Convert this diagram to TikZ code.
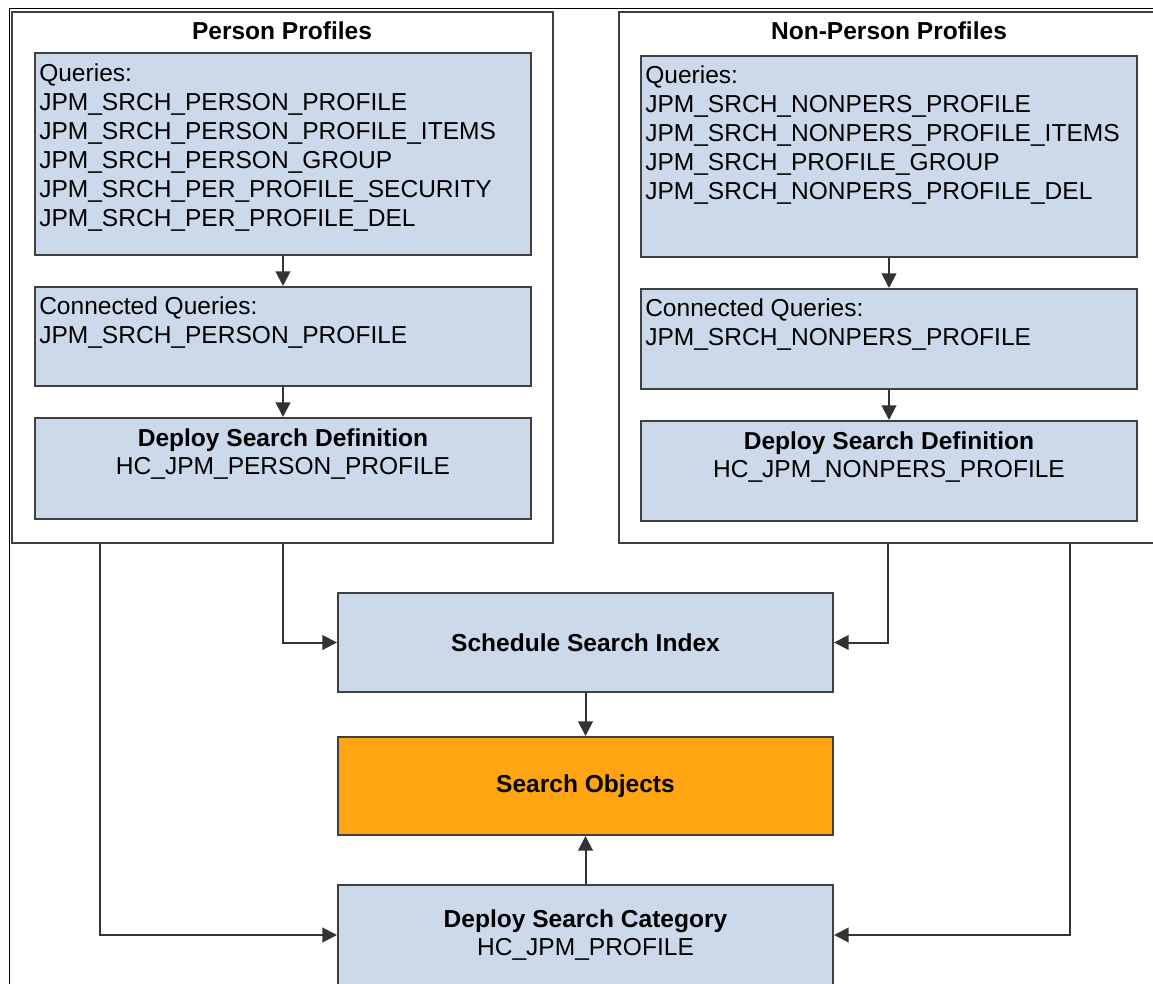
\documentclass[tikz,border=0pt]{standalone}
\usepackage{fontspec}
\setmainfont{Liberation Sans}
\usepackage{tikz}
\usetikzlibrary{arrows.meta}
\definecolor{boxblue}{RGB}{204,217,235}
\definecolor{boxorange}{RGB}{255,165,17}
\definecolor{edgegray}{RGB}{64,64,64}
\definecolor{arrgray}{RGB}{51,51,51}

\begin{document}
\begin{tikzpicture}[x=0.75pt,y=-0.75pt,
  outerbox/.style={draw=edgegray, line width=1.5pt, fill=white, minimum width=405.75pt, minimum height=398.25pt},
  bluebox/.style={draw=edgegray, line width=1.5pt, fill=boxblue, minimum width=372pt},
  midbox/.style={draw=edgegray, line width=1.5pt, fill=boxblue, minimum width=371.25pt, minimum height=74.25pt, align=center, font=\fontsize{18.4}{21}\selectfont},
  listtext/.style={anchor=north west, inner sep=0pt, align=left, font=\fontsize{18.4}{21.75}\selectfont},
  deftext/.style={anchor=north, inner sep=0pt, align=center, font=\fontsize{18.4}{21}\selectfont},
  title/.style={font=\fontsize{18.4}{21}\selectfont\bfseries, inner sep=0pt},
  conn/.style={draw=arrgray, line width=1.5pt, -{Triangle[length=11pt,width=11pt]}}]
\clip (0,0) rectangle (1153,984);
\draw [line width=0.75pt] (9,984) -- (9,9) -- (1153,9);

% person profiles
\node [outerbox] (pp) at (282.5,277.5) {};
\node [title] (ppt) at (282,31) {Person Profiles};
\node [bluebox, minimum height=151.5pt] (pq) at (283,154) {};
\node [listtext] (pqt) at ([shift={(5,11)}]pq.north west) {Queries:\\
  JPM\_SRCH\_PERSON\_PROFILE\\
  JPM\_SRCH\_PERSON\_PROFILE\_ITEMS\\
  JPM\_SRCH\_PERSON\_GROUP\\
  JPM\_SRCH\_PER\_PROFILE\_SECURITY\\
  JPM\_SRCH\_PER\_PROFILE\_DEL};
\node [bluebox, minimum height=74.25pt] (pc) at (283,336.5) {};
\node [listtext] (pct) at ([shift={(5,10)}]pc.north west) {Connected Queries:\\
  JPM\_SRCH\_PERSON\_PROFILE};
\node [bluebox, minimum height=75.75pt] (pd) at (283,468.5) {};
\node [deftext] (pdt) at ([shift={(0,11)}]pd.north) {\textbf{Deploy Search Definition}\\
  HC\_JPM\_PERSON\_PROFILE};
\draw [conn] (pq) -- (pc);
\draw [conn] (pc) -- (pd);

% non-person profiles (runs off the right edge)
\node [outerbox, minimum width=420.75pt] (np) at (899.5,277.5) {};
\node [title] (npt) at (889,31) {Non-Person Profiles};
\node [bluebox, minimum height=150.75pt] (nq) at (889,156.5) {};
\node [listtext] (nqt) at ([shift={(5,10)}]nq.north west) {Queries:\\
  JPM\_SRCH\_NONPERS\_PROFILE\\
  JPM\_SRCH\_NONPERS\_PROFILE\_ITEMS\\
  JPM\_SRCH\_PROFILE\_GROUP\\
  JPM\_SRCH\_NONPERS\_PROFILE\_DEL};
\node [bluebox, minimum height=75pt] (nc) at (889,339) {};
\node [listtext] (nct) at ([shift={(5,10)}]nc.north west) {Connected Queries:\\
  JPM\_SRCH\_NONPERS\_PROFILE};
\node [bluebox, minimum height=75pt] (nd) at (889,471) {};
\node [deftext] (ndt) at ([shift={(0,11)}]nd.north) {\textbf{Deploy Search Definition}\\
  HC\_JPM\_NONPERS\_PROFILE};
\draw [conn] (nq) -- (nc);
\draw [conn] (nc) -- (nd);

% middle column
\node [midbox] (sched) at (585.5,642.5) {\textbf{Schedule Search Index}};
\node [midbox, fill=boxorange, minimum height=73.5pt] (sobj) at (585.5,786) {\textbf{Search Objects}};
\node [midbox, minimum height=75pt] (cat) at (585.5,935) {\textbf{Deploy Search Category}\\ HC\_JPM\_PROFILE};
\coordinate (pl) at ([xshift=66.75pt]pp.south west);
\coordinate (nm) at ([xshift=202.5pt]np.south west);
\coordinate (nr) at ([xshift=339pt]np.south west);
\draw [conn] (pp.south) |- (sched.west);
\draw [conn] (nm) |- (sched.east);
\draw [conn] (pl) |- (cat.west);
\draw [conn] (nr) |- (cat.east);
\draw [conn] (sched) -- (sobj);
\draw [conn] (cat) -- (sobj);
\end{tikzpicture}
\end{document}
